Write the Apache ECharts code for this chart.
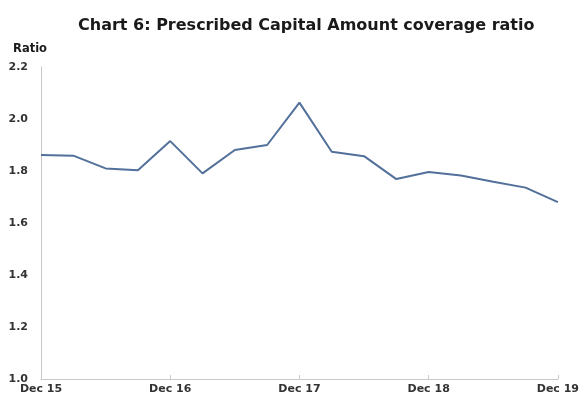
<!DOCTYPE html>
<html>
<head>
<meta charset="utf-8">
<script src="https://cdn.jsdelivr.net/npm/echarts@6/dist/echarts.min.js"></script>
<style>html,body{margin:0;padding:0;background:#fff;}#c{width:582px;height:399px;}</style>
</head>
<body>
<div id="c"></div>
<script>
const categories = ["Dec 15","Mar 16","Jun 16","Sep 16","Dec 16","Mar 17","Jun 17","Sep 17","Dec 17","Mar 18","Jun 18","Sep 18","Dec 18","Mar 19","Jun 19","Sep 19","Dec 19"];
const ratio = [1.862,1.859,1.810,1.803,1.915,1.791,1.881,1.900,2.063,1.874,1.857,1.769,1.796,1.783,1.759,1.736,1.680];
const yTicks = {min:1.0, max:2.2, interval:0.2};
const titleText = "Chart 6: Prescribed Capital Amount coverage ratio";
const yName = "Ratio";

const font = "'DejaVu Sans', Verdana, sans-serif";
const chart = echarts.init(document.getElementById('c'));
chart.setOption({
  animation:false,
  title:{text:titleText,left:73,top:13,textStyle:{fontFamily:font,fontSize:16,fontWeight:'bold',color:'#1a1a1a'}},
  grid:{left:41,right:24,top:67,bottom:20,containLabel:false},
  xAxis:{type:'category',data:categories,boundaryGap:false,
    axisLine:{lineStyle:{color:'#c8c8c8',width:1}},
    axisTick:{interval:3,length:4,inside:true,lineStyle:{color:'#c8c8c8'}},
    axisLabel:{interval:3,margin:5,fontFamily:font,fontSize:11,fontWeight:'bold',color:'#333'},
    splitLine:{show:false}},
  yAxis:{type:'value',min:yTicks.min,max:yTicks.max,interval:yTicks.interval,
    name:yName,nameLocation:'end',nameGap:12,
    nameTextStyle:{fontFamily:font,fontSize:11.5,fontWeight:'bold',color:'#1a1a1a',align:'right',padding:[0,-6,0,0]},
    axisLine:{show:true,lineStyle:{color:'#c8c8c8',width:1}},
    axisTick:{show:false},
    axisLabel:{margin:13,fontFamily:font,fontSize:11,fontWeight:'bold',color:'#333',formatter:v=>v.toFixed(1)},
    splitLine:{show:false}},
  series:[{type:'line',data:ratio,symbol:'none',lineStyle:{color:'#52709a',width:2}}]
});
</script>
</body>
</html>
